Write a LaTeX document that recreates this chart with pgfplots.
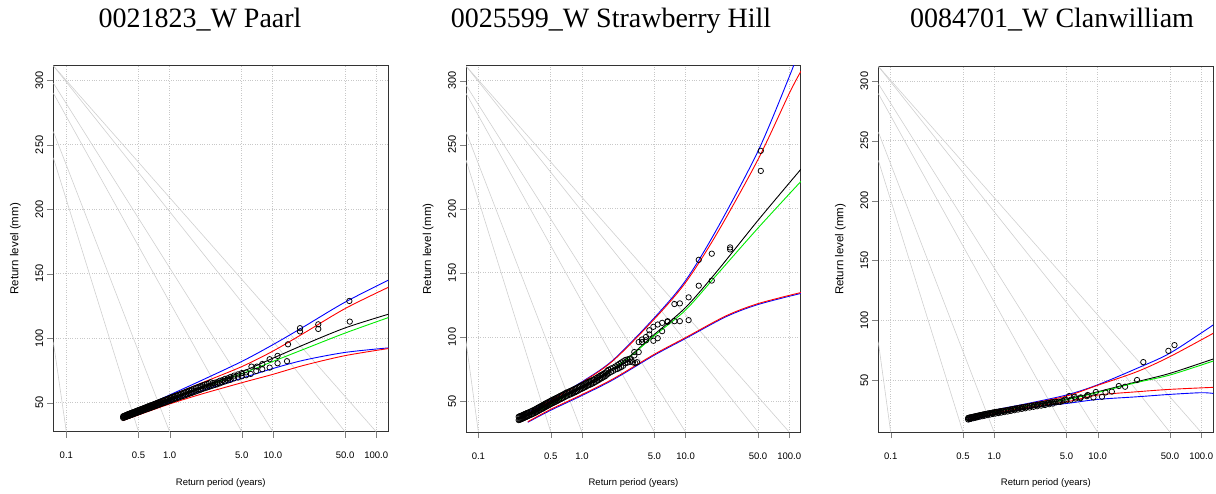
\documentclass[border=0pt]{standalone}
\usepackage{fontspec}
\setmainfont{Liberation Sans}
\newfontfamily\titlefont{Liberation Serif}
\usepackage{pgfplots}
\pgfplotsset{compat=1.18}
\definecolor{refgray}{RGB}{208,208,208}
\definecolor{gridgray}{RGB}{200,200,200}
\definecolor{rgreen}{RGB}{0,235,0}
\pgfplotsset{
  every axis/.append style={
    scale only axis, width=335pt, height=366pt,
    xtick={0.1,0.5,1,5,10,50,100},
    xticklabels={0.1,0.5,1.0,5.0,10.0,50.0,100.0},
    ytick={50,100,150,200,250,300},
    yticklabels={50,100,150,200,250,300},
    xtick pos=left, ytick pos=left,
    tick align=outside,
    major tick length=6pt,
    grid=major,
    major grid style={gridgray, dotted, line width=0.8pt},
    axis line style={line width=1pt, black!80},
    xticklabel style={font=\fontsize{9.5}{11}\selectfont, anchor=center, yshift=-18pt},
    yticklabel style={font=\fontsize{11}{13}\selectfont, xshift=-8pt, rotate=90, anchor=center},
    xlabel={Return period (years)},
    ylabel={Return level (mm)},
    xlabel style={font=\fontsize{9.5}{11}\selectfont, at={(axis description cs:0.5,-0.140)}, anchor=center},
    ylabel style={font=\fontsize{11.5}{13}\selectfont, at={(axis description cs:-0.113,0.5)}, anchor=center},
  },
  refline/.style={refgray, line width=0.6pt, forget plot},
  pts/.style={only marks, mark=o, mark size=2.7pt, mark options={line width=0.75pt, black}},
  cv/.style={line width=0.9pt, smooth},
}
\begin{document}
\begin{tikzpicture}
\path[use as bounding box] (0pt,0pt) rectangle (1216pt,493pt);
\node[anchor=base, font=\titlefont\fontsize{28}{30}\selectfont] at (200pt,465pt) {0021823\_W Paarl};
\node[anchor=base, font=\titlefont\fontsize{28}{30}\selectfont] at (611pt,465pt) {0025599\_W Strawberry Hill};
\node[anchor=base, font=\titlefont\fontsize{28}{30}\selectfont] at (1052pt,465pt) {0084701\_W Clanwilliam};

% ---------------- Panel 1: Paarl ----------------
\begin{axis}[xmode=log, at={(53.3pt,61.3pt)}, anchor=south west,
  xmin=0.0748, xmax=131, ymin=27.5, ymax=311.4]
\addplot[refline] coordinates {(0.0748,311.4) (100,27.5)};
\addplot[refline] coordinates {(0.0748,311.4) (50,27.5)};
\addplot[refline] coordinates {(0.0748,298) (10,27.5)};
\addplot[refline] coordinates {(0.0748,290.2) (5,27.5)};
\addplot[refline] coordinates {(0.0748,260.4) (1,27.5)};
\addplot[refline] coordinates {(0.0748,240) (0.5,27.5)};
\addplot[refline] coordinates {(0.0748,97.4) (0.1,27.5)};
\addplot[pts] coordinates {
(55,128.9) (55.5,112.9) (27.5,110.8) (27.5,107.2) (18.3,107.8) (18.3,105.3)
(14,95.3) (13.7,82.2) (11.1,86.3) (11.1,80.6) (9.3,83.7) (9.3,77.2)
(7.9,80) (7.9,75.9) (7.0,78) (6.9,74.6) (6.2,78) (6.1,72.3)
(5.5,73.5) (5.5,71.3) (5.0,73) (5.0,70.5) (4.6,72) (4.6,69.5)
(4.2,71) (4.2,68.8) (3.9,70) (3.9,67.8) (3.67,69) (3.67,67.2)
(3.44,68.5) (3.44,66.5) (3.24,67.5) (3.24,65.8) (3.06,67) (3.06,65)
(2.89,66) (2.89,64.3) (2.75,65.5) (2.75,63.8) (2.62,65.2) (2.62,63.3)
(2.5,65.8) (2.5,62.8) (2.4,65) (2.4,62.3) (2.3,64.6) (2.3,61.8) (2.2,64) (2.2,61.3) (2.1,63.5) (2.1,60.8)
(2.02,63) (2.02,60.3) (1.95,62.5) (1.95,59.8) (1.87,62) (1.87,59.3) (1.8,61.5) (1.8,58.8) (1.72,60.9) (1.72,58.2) (1.65,60.3) (1.65,57.7)
(1.6,59.8) (1.6,57.4) (1.55,59.4) (1.55,57) (1.5,59) (1.5,56.6) (1.45,58.5) (1.45,56.1) (1.4,58) (1.4,55.6) (1.35,57.5) (1.35,55.2)
(1.3,57) (1.3,54.8) (1.25,56.5) (1.25,54.3) (1.21,56) (1.21,53.9) (1.17,55.6) (1.17,53.5) (1.13,55.2) (1.13,53.1) (1.1,54.8) (1.1,52.7)
(1.06,54.4) (1.06,52.3) (1.03,54) (1.03,51.9) (1,53.6) (1,51.5) (0.97,53.1) (0.97,51.1) (0.94,52.7) (0.94,50.7) (0.91,52.3) (0.91,50.3)
(0.88,51.9) (0.88,49.9) (0.86,51.5) (0.86,49.6) (0.83,51.1) (0.83,49.2) (0.81,50.7) (0.81,48.9) (0.79,50.3) (0.79,48.5) (0.77,50) (0.77,48.2)
(0.75,49.6) (0.75,47.8) (0.73,49.3) (0.73,47.5) (0.71,48.9) (0.71,47.1) (0.69,48.5) (0.69,46.8) (0.675,48.2) (0.675,46.5) (0.66,47.9) (0.66,46.2)
(0.645,47.6) (0.645,45.9) (0.63,47.3) (0.63,45.6) (0.615,47) (0.615,45.3) (0.6,46.6) (0.6,45) (0.585,46.3) (0.585,44.7) (0.57,45.9) (0.57,44.4)
(0.557,45.6) (0.557,44.1) (0.545,45.3) (0.545,43.8) (0.532,45) (0.532,43.5) (0.52,44.7) (0.52,43.2) (0.51,44.4) (0.51,42.9) (0.5,44.2) (0.5,42.7)
(0.49,43.9) (0.49,42.4) (0.48,43.6) (0.48,42.2) (0.47,43.3) (0.47,41.9) (0.46,43) (0.46,41.6) (0.45,42.7) (0.45,41.3) (0.44,42.4) (0.44,41)
(0.432,42.2) (0.432,40.8) (0.425,42) (0.425,40.6) (0.417,41.7) (0.417,40.3) (0.41,41.5) (0.41,40.1) (0.402,41.2) (0.402,39.8) (0.395,41) (0.395,39.6)
(0.387,40.7) (0.387,39.3) (0.38,40.4) (0.38,39.1) (0.372,40.1) (0.372,38.8) (0.365,39.8) (0.365,38.6) (0.36,39.6) (0.36,38.4) (0.355,39.4) (0.355,38.2)
};
\addplot[cv, black] coordinates {(0.35,38.3) (0.5,43) (0.7,47.5) (1,52.5) (2,62) (5,74) (10,84.5) (20,95) (50,108) (131,118.6)};
\addplot[cv, rgreen] coordinates {(0.35,38.3) (0.5,43) (1,52.3) (2,61.5) (5,72.5) (10,82) (20,91.5) (50,104) (131,116)};
\addplot[cv, blue] coordinates {(0.35,40) (0.5,45) (1,56) (2,67) (5,82) (10,95) (20,109) (50,128) (131,145)};
\addplot[cv, red] coordinates {(0.35,39.5) (0.5,44.5) (1,55) (2,65) (5,78) (10,90) (20,104) (50,123) (131,139.5)};
\addplot[cv, blue] coordinates {(0.35,37.8) (0.5,42) (1,50.5) (2,59) (5,69) (10,76.5) (20,83) (50,89) (131,92.5)};
\addplot[cv, red] coordinates {(0.35,36) (0.5,40.5) (1,49) (2,56.5) (5,65.5) (10,72) (20,79) (50,86.5) (131,92)};
\end{axis}

% ---------------- Panel 2: Strawberry Hill ----------------
\begin{axis}[xmode=log, at={(466pt,61pt)}, anchor=south west,
  xmin=0.076, xmax=130, ymin=25.8, ymax=311.5]
\addplot[refline] coordinates {(0.076,311.5) (100,25.8)};
\addplot[refline] coordinates {(0.076,311.5) (50,25.8)};
\addplot[refline] coordinates {(0.076,296.6) (10,25.8)};
\addplot[refline] coordinates {(0.076,290.2) (5,25.8)};
\addplot[refline] coordinates {(0.076,260.2) (1,25.8)};
\addplot[refline] coordinates {(0.076,238.1) (0.5,25.8)};
\addplot[refline] coordinates {(0.076,96.5) (0.1,25.8)};
\addplot[pts] coordinates {
(53.2,245.3) (53.2,229.6) (26.9,169.9) (26.9,168.3) (17.9,165) (17.9,144)
(13.4,160.2) (13.4,140) (10.7,130.9) (10.7,113.1) (8.8,126.2) (8.8,112.3)
(7.8,125.7) (7.8,112.3) (6.7,112.3) (6.7,111.8) (5.94,111) (5.94,104.5)
(5.38,109.7) (5.38,99) (4.89,107.9) (4.89,97) (4.47,105.2) (4.47,102)
(4.15,100) (4.15,97.4) (3.8,98) (3.8,96) (3.53,96) (3.53,88.2)
(3.2,88.2) (3.2,85.6) (3.0,81.7) (3.27,79.6) (3.4,80.3) (3.1,80.2)
(2.9,83) (2.9,80.5) (2.75,82.5) (2.75,80) (2.62,82) (2.62,79.5)
(2.5,81) (2.5,77.5) (2.39,80) (2.39,76.5) (2.29,79) (2.29,75.8)
(2.2,78) (2.2,75) (2.1,77) (2.1,74.5) (2.0,76) (2.0,73.5)
(1.9,75.3) (1.9,72.5) (1.8,74.3) (1.8,71.5) (1.75,73.5) (1.75,70.8)
(1.7,72.3) (1.7,69.7) (1.65,71.7) (1.65,69.1) (1.6,71.1) (1.6,68.5) (1.55,70.4) (1.55,67.8) (1.5,69.8) (1.5,67.2)
(1.45,69) (1.45,66.4) (1.4,68.3) (1.4,65.7) (1.35,67.5) (1.35,64.9) (1.3,66.8) (1.3,64.2) (1.26,66.2) (1.26,63.6) (1.22,65.7) (1.22,63.1)
(1.18,65.2) (1.18,62.6) (1.15,64.8) (1.15,62.2) (1.11,64.2) (1.11,61.6) (1.08,63.6) (1.08,61) (1.05,63.1) (1.05,60.5) (1.02,62.6) (1.02,60)
(0.99,62.1) (0.99,59.5) (0.96,61.6) (0.96,59) (0.93,61) (0.93,58.4) (0.9,60.3) (0.9,57.7) (0.87,59.8) (0.87,57.2) (0.85,59.3) (0.85,56.7)
(0.82,58.8) (0.82,56.2) (0.8,58.3) (0.8,55.7) (0.77,57.8) (0.77,55.2) (0.75,57.3) (0.75,54.7) (0.72,56.8) (0.72,54.2) (0.7,56.3) (0.7,53.7)
(0.68,55.7) (0.68,53.1) (0.66,55.1) (0.66,52.5) (0.64,54.6) (0.64,52) (0.62,54) (0.62,51.4) (0.6,53.4) (0.6,50.8) (0.58,52.8) (0.58,50.2)
(0.565,52.3) (0.565,49.7) (0.55,51.8) (0.55,49.2) (0.535,51.4) (0.535,48.8) (0.52,50.9) (0.52,48.3) (0.505,50.4) (0.505,47.8) (0.49,49.8) (0.49,47.2)
(0.475,49.2) (0.475,46.6) (0.46,48.6) (0.46,46) (0.45,48.2) (0.45,45.6) (0.44,47.8) (0.44,45.2) (0.43,47.3) (0.43,44.7) (0.42,46.8) (0.42,44.2)
(0.41,46.4) (0.41,43.8) (0.4,45.9) (0.4,43.3) (0.39,45.4) (0.39,42.8) (0.38,44.9) (0.38,42.3) (0.37,44.4) (0.37,41.8) (0.36,43.8) (0.36,41.2)
(0.35,43.3) (0.35,40.7) (0.34,42.8) (0.34,40.2) (0.33,42.3) (0.33,39.7) (0.32,41.8) (0.32,39.2) (0.31,41.3) (0.31,38.7) (0.3,40.8) (0.3,38.2)
(0.295,40.5) (0.295,37.9) (0.29,40.3) (0.29,37.7) (0.285,40) (0.285,37.4) (0.28,39.7) (0.28,37.1) (0.275,39.4) (0.275,36.8) (0.27,39.1) (0.27,36.5)
(0.265,38.8) (0.265,36.2) (0.26,38.5) (0.26,35.9) (0.255,38.2) (0.255,35.6) (0.25,38) (0.25,35.4) (0.245,37.7) (0.245,35.1)
};
\addplot[cv, black] coordinates {(0.3,38.5) (0.5,47) (1,61) (2,75.5) (3,86) (5,102) (10,123) (20,151) (50,191) (130,231)};
\addplot[cv, rgreen] coordinates {(0.3,38.5) (0.5,47) (1,61) (2,75.3) (3,85.5) (5,101) (10,121) (20,148.5) (50,185) (130,221.5)};
\addplot[cv, blue] coordinates {(0.3,41) (0.5,51) (1,65) (2,82) (5,115) (10,144) (20,184) (50,245) (100,303) (131,328)};
\addplot[cv, red] coordinates {(0.3,40) (0.5,50.5) (1,64.5) (2,81.5) (5,114) (10,142.5) (20,180.5) (50,238.5) (100,290) (130,307.5)};
\addplot[cv, blue] coordinates {(0.3,33.4) (0.5,42.8) (1,54.3) (2,66.6) (5,85.8) (10,98.8) (24.6,115.8) (50,125.3) (130,134)};
\addplot[cv, red] coordinates {(0.3,33.8) (0.5,43.5) (1,55) (2,67.3) (5,86.5) (10,99.5) (24.6,116.5) (50,126) (130,134.7)};
\end{axis}

% ---------------- Panel 3: Clanwilliam ----------------
\begin{axis}[xmode=log, at={(878.3pt,60.7pt)}, anchor=south west,
  xmin=0.0759, xmax=131, ymin=6.3, ymax=312.3]
\addplot[refline] coordinates {(0.0759,312.3) (100,6.3)};
\addplot[refline] coordinates {(0.0759,312.3) (50,6.3)};
\addplot[refline] coordinates {(0.0759,297.8) (10,6.3)};
\addplot[refline] coordinates {(0.0759,289.5) (5,6.3)};
\addplot[refline] coordinates {(0.0759,257.4) (1,6.3)};
\addplot[refline] coordinates {(0.0759,233.7) (0.5,6.3)};
\addplot[refline] coordinates {(0.0759,82) (0.1,6.3)};
\addplot[pts] coordinates {
(55.2,79.2) (48.2,74.4) (27.6,65) (24,50) (18.4,44.4) (16,45)
(13.7,40.3) (11.9,39.6) (11,36) (9.6,40) (9.1,35.4) (8,37.5)
(7.86,36.5) (6.86,35.5) (6.8,34.8) (6,36) (6.1,34.5) (5.3,36.6)
(5.5,33.5) (4.8,33.5) (5,33) (4.58,32.5) (4.36,31.8) (4.23,32) (4,31.5)
(3.85,31.8) (3.7,31.5) (3.7,30.3) (3.55,31.2) (3.4,31) (3.4,29.8) (3.25,30.6) (3.1,30.3) (3.1,29.1)
(2.97,30) (2.85,29.8) (2.85,28.6) (2.72,29.5) (2.6,29.3) (2.6,28.1) (2.5,29) (2.4,28.8) (2.4,27.6)
(2.3,28.5) (2.2,28.2) (2.2,27) (2.1,27.9) (2.0,27.6) (2.0,26.4) (1.92,27.3) (1.85,27.1) (1.85,25.9)
(1.77,26.8) (1.7,26.5) (1.7,25.3) (1.63,26.2) (1.57,26) (1.57,24.8) (1.51,25.7) (1.45,25.4) (1.45,24.2)
(1.4,25.1) (1.35,24.9) (1.35,23.7) (1.3,24.6) (1.25,24.4) (1.25,23.2) (1.21,24.2) (1.17,24) (1.17,22.8)
(1.13,23.8) (1.1,23.6) (1.1,22.4) (1.06,23.4) (1.03,23.2) (1.03,22) (1,23) (0.97,22.8) (0.97,21.6)
(0.94,22.5) (0.91,22.3) (0.91,21.1) (0.88,22.1) (0.86,21.9) (0.86,20.7) (0.83,21.6) (0.81,21.4) (0.81,20.2)
(0.79,21.2) (0.77,21) (0.77,19.8) (0.75,20.8) (0.73,20.6) (0.73,19.4) (0.71,20.3) (0.69,20.1) (0.69,18.9)
(0.675,19.9) (0.66,19.7) (0.66,18.5) (0.645,19.5) (0.63,19.3) (0.63,18.1) (0.615,19.1) (0.6,18.9) (0.6,17.7)
(0.585,18.7) (0.575,18.5) (0.575,17.3) (0.565,18.3) (0.56,18.2) (0.56,17)
};
\addplot[cv, black] coordinates {(0.56,17.3) (1,23.5) (2,28) (5,33.8) (10,40.2) (24,48.6) (50,55.6) (131,67.6)};
\addplot[cv, rgreen] coordinates {(0.56,17.3) (1,23.5) (2,28) (5,33.6) (10,39.6) (24,48) (50,54.2) (131,65.9)};
\addplot[cv, blue] coordinates {(0.56,17.5) (1,24.7) (2,30) (5,37.5) (10,46) (24,59.8) (50,72.5) (131,96.1)};
\addplot[cv, red] coordinates {(0.56,17) (1,24.3) (2,29.5) (5,36.6) (10,45.6) (24,57) (50,69.6) (131,89.1)};
\addplot[cv, blue] coordinates {(0.56,15.1) (1,21.5) (2,26.5) (5,30.4) (10,33.8) (24,36) (50,38) (100,39.4) (131,38.8)};
\addplot[cv, red] coordinates {(0.56,15.9) (1,22.1) (2,27) (5,31.8) (10,37.4) (24,40.2) (50,42.2) (131,43.9)};
\end{axis}
\end{tikzpicture}
\end{document}
